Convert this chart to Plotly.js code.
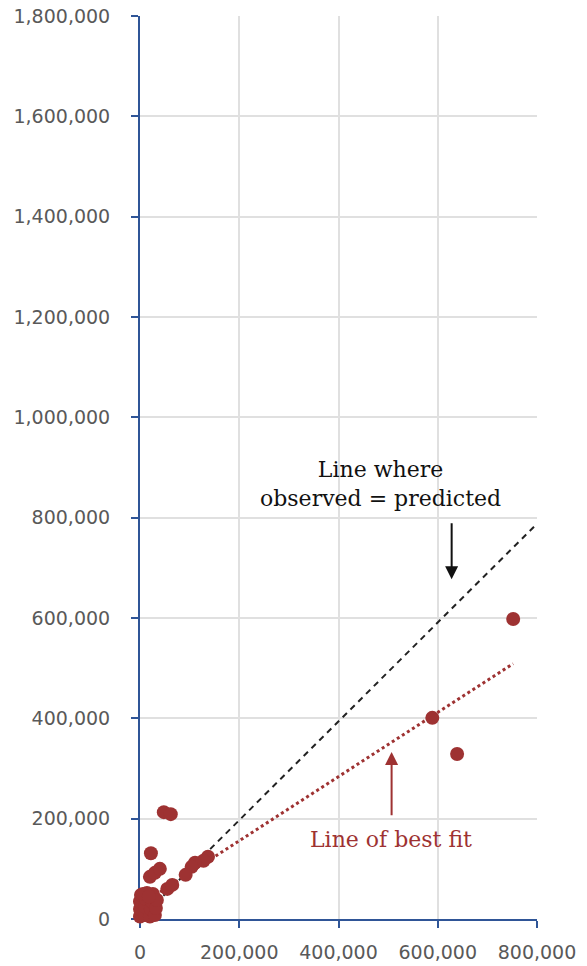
<!DOCTYPE html>
<html>
<head>
<meta charset="utf-8">
<script src="https://cdn.plot.ly/plotly-3.0.1.min.js"></script>
<style>html,body{margin:0;padding:0;background:#fff;}#chart{width:587px;height:966px;}</style>
</head>
<body>
<div id="chart"></div>
<script>
// Predicted (x) and observed (y) values
var predicted = [752000, 589000, 639000, 48000, 62000, 22000, 20000, 30000, 40000, 137000, 128000, 111000, 104000, 92000, 55000, 65000,
  0, 0, 0, 2000, 10000, 10000, 12000, 14000, 20000, 22000, 24000, 26000, 30000, 32000, 34000, 6000, 18000];
var observed = [598000, 401000, 329000, 213000, 209000, 131000, 84000, 92000, 100000, 124000, 116000, 112000, 104000, 88000, 60000, 68000,
  5000, 20000, 35000, 48000, 8000, 25000, 40000, 52000, 5000, 20000, 35000, 50000, 8000, 22000, 38000, 50000, 45000];
// Reference lines
var equalX = [0, 800000];
var equalY = [0, 788000];
var fitX = [0, 752000];
var fitY = [28000, 509000];
var yTicks = [0, 200000, 400000, 600000, 800000, 1000000, 1200000, 1400000, 1600000, 1800000];
var xTicks = [0, 200000, 400000, 600000, 800000];

var maroon = '#9E3232';
var axisBlue = '#2F5597';

var traces = [
  {x: equalX, y: equalY, type: 'scatter', mode: 'lines', line: {color: '#222', width: 2, dash: '6px,5px'}, hoverinfo: 'skip', cliponaxis: false},
  {x: fitX, y: fitY, type: 'scatter', mode: 'lines', line: {color: maroon, width: 3, dash: 'dot'}, hoverinfo: 'skip', cliponaxis: false},
  {x: predicted, y: observed, type: 'scatter', mode: 'markers', marker: {color: maroon, size: 14}, cliponaxis: false}
];

var tickFont = {family: 'DejaVu Sans', size: 19, color: '#595959'};

var layout = {
  width: 587, height: 966,
  margin: {l: 140, r: 50, t: 16, b: 47},
  paper_bgcolor: '#fff', plot_bgcolor: '#fff',
  showlegend: false,
  xaxis: {
    range: [0, 800000], tickvals: xTicks, ticktext: xTicks.map(function(v){return v.toLocaleString('en-US');}),
    showgrid: true, gridcolor: '#e0e0e0', gridwidth: 2, zeroline: false,
    showline: true, linecolor: axisBlue, linewidth: 2,
    ticks: 'outside', ticklen: 7, tickcolor: axisBlue, tickwidth: 2,
    tickfont: tickFont, ticklabelstandoff: 8, layer: 'below traces'
  },
  yaxis: {
    range: [0, 1800000], tickvals: yTicks, ticktext: yTicks.map(function(v){return v.toLocaleString('en-US');}),
    showgrid: true, gridcolor: '#e0e0e0', gridwidth: 2, zeroline: false,
    showline: true, linecolor: axisBlue, linewidth: 2,
    ticks: 'outside', ticklen: 7, tickcolor: axisBlue, tickwidth: 2,
    tickfont: tickFont, ticklabelstandoff: 17, layer: 'below traces'
  },
  annotations: [
    {x: 485000, y: 868000, xref: 'x', yref: 'y', text: 'Line where<br>observed = predicted', showarrow: false,
     font: {family: 'DejaVu Serif', size: 22, color: '#111'}, align: 'center'},
    {x: 628000, y: 677000, ax: 628000, ay: 792000, axref: 'x', ayref: 'y', xref: 'x', yref: 'y', text: '',
     showarrow: true, arrowhead: 2, arrowsize: 1.3, arrowwidth: 2, arrowcolor: '#111', standoff: 0},
    {x: 506000, y: 158000, xref: 'x', yref: 'y', text: 'Line of best fit', showarrow: false,
     font: {family: 'DejaVu Serif', size: 22, color: maroon}},
    {x: 507000, y: 333000, ax: 507000, ay: 204000, axref: 'x', ayref: 'y', xref: 'x', yref: 'y', text: '',
     showarrow: true, arrowhead: 2, arrowsize: 1.3, arrowwidth: 2, arrowcolor: maroon, standoff: 0}
  ]
};

Plotly.newPlot('chart', traces, layout, {displayModeBar: false, staticPlot: true});
</script>
</body>
</html>
